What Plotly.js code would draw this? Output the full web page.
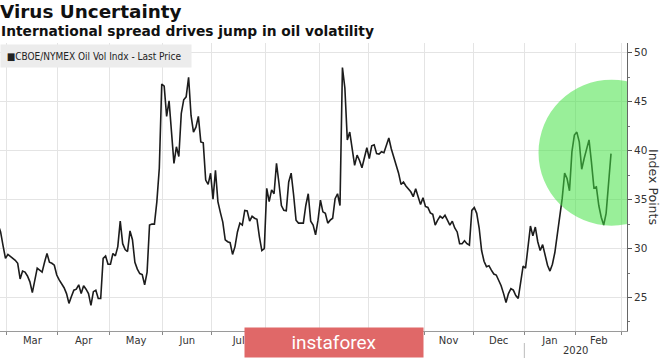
<!DOCTYPE html>
<html><head><meta charset="utf-8">
<script src="https://cdn.plot.ly/plotly-3.0.1.min.js"></script>
<style>html,body{margin:0;padding:0;background:#fff;}#chart{width:665px;height:358px;}</style>
</head><body><div id="chart"></div>
<script>
// Trading days (US exchange calendar) shown on the chart
const tradingDates = [
'2019-02-25','2019-02-26','2019-02-27','2019-02-28',
'2019-03-01','2019-03-04','2019-03-05','2019-03-06','2019-03-07','2019-03-08','2019-03-11','2019-03-12','2019-03-13','2019-03-14','2019-03-15','2019-03-18','2019-03-19','2019-03-20','2019-03-21','2019-03-22','2019-03-25','2019-03-26','2019-03-27','2019-03-28','2019-03-29',
'2019-04-01','2019-04-02','2019-04-03','2019-04-04','2019-04-05','2019-04-08','2019-04-09','2019-04-10','2019-04-11','2019-04-12','2019-04-15','2019-04-16','2019-04-17','2019-04-18','2019-04-22','2019-04-23','2019-04-24','2019-04-25','2019-04-26','2019-04-29','2019-04-30',
'2019-05-01','2019-05-02','2019-05-03','2019-05-06','2019-05-07','2019-05-08','2019-05-09','2019-05-10','2019-05-13','2019-05-14','2019-05-15','2019-05-16','2019-05-17','2019-05-20','2019-05-21','2019-05-22','2019-05-23','2019-05-24','2019-05-28','2019-05-29','2019-05-30','2019-05-31',
'2019-06-03','2019-06-04','2019-06-05','2019-06-06','2019-06-07','2019-06-10','2019-06-11','2019-06-12','2019-06-13','2019-06-14','2019-06-17','2019-06-18','2019-06-19','2019-06-20','2019-06-21','2019-06-24','2019-06-25','2019-06-26','2019-06-27','2019-06-28',
'2019-07-01','2019-07-02','2019-07-03','2019-07-05','2019-07-08','2019-07-09','2019-07-10','2019-07-11','2019-07-12','2019-07-15','2019-07-16','2019-07-17','2019-07-18','2019-07-19','2019-07-22','2019-07-23','2019-07-24','2019-07-25','2019-07-26','2019-07-29','2019-07-30','2019-07-31',
'2019-08-01','2019-08-02','2019-08-05','2019-08-06','2019-08-07','2019-08-08','2019-08-09','2019-08-12','2019-08-13','2019-08-14','2019-08-15','2019-08-16','2019-08-19','2019-08-20','2019-08-21','2019-08-22','2019-08-23','2019-08-26','2019-08-27','2019-08-28','2019-08-29','2019-08-30',
'2019-09-03','2019-09-04','2019-09-05','2019-09-06','2019-09-09','2019-09-10','2019-09-11','2019-09-12','2019-09-13','2019-09-16','2019-09-17','2019-09-18','2019-09-19','2019-09-20','2019-09-23','2019-09-24','2019-09-25','2019-09-26','2019-09-27','2019-09-30',
'2019-10-01','2019-10-02','2019-10-03','2019-10-04','2019-10-07','2019-10-08','2019-10-09','2019-10-10','2019-10-11','2019-10-14','2019-10-15','2019-10-16','2019-10-17','2019-10-18','2019-10-21','2019-10-22','2019-10-23','2019-10-24','2019-10-25','2019-10-28','2019-10-29','2019-10-30','2019-10-31',
'2019-11-01','2019-11-04','2019-11-05','2019-11-06','2019-11-07','2019-11-08','2019-11-11','2019-11-12','2019-11-13','2019-11-14','2019-11-15','2019-11-18','2019-11-19','2019-11-20','2019-11-21','2019-11-22','2019-11-25','2019-11-26','2019-11-27','2019-11-29',
'2019-12-02','2019-12-03','2019-12-04','2019-12-05','2019-12-06','2019-12-09','2019-12-10','2019-12-11','2019-12-12','2019-12-13','2019-12-16','2019-12-17','2019-12-18','2019-12-19','2019-12-20','2019-12-23','2019-12-24','2019-12-26','2019-12-27','2019-12-30','2019-12-31',
'2020-01-02','2020-01-03','2020-01-06','2020-01-07','2020-01-08','2020-01-09','2020-01-10','2020-01-13','2020-01-14','2020-01-15','2020-01-16','2020-01-17','2020-01-21','2020-01-22','2020-01-23','2020-01-24','2020-01-27','2020-01-28','2020-01-29','2020-01-30','2020-01-31',
'2020-02-03','2020-02-04','2020-02-05','2020-02-06','2020-02-07','2020-02-10','2020-02-11','2020-02-12','2020-02-13','2020-02-14','2020-02-18','2020-02-19','2020-02-20','2020-02-21','2020-02-24'
];

// CBOE/NYMEX Oil Vol Indx - Last Price
const ovxValues = [
32.4,31.7,30.3,29.0,29.4,29.2,29.0,28.8,28.5,26.9,27.7,27.6,27.2,
26.6,25.5,26.8,28.0,27.8,27.6,28.6,29.5,28.6,28.5,
28.3,27.3,26.8,26.4,26.0,25.4,24.4,25.1,25.75,25.85,
26.3,25.4,26.2,25.85,25.4,24.2,25.6,25.75,24.9,24.9,
29.0,29.25,28.4,28.4,29.5,29.25,30.2,32.8,30.5,29.9,
29.7,31.8,30.9,28.6,27.9,27.45,27.35,26.3,27.6,32.4,
32.5,32.5,34.8,38.2,46.8,46.6,43.5,45.1,41.6,38.7,
40.4,39.4,43.8,45.2,45.5,47.5,43.6,41.9,42.4,43.5,
40.9,40.8,37.0,36.55,37.7,35.05,38.0,34.8,33.7,32.7,
30.9,30.7,30.6,29.4,30.2,31.7,32.6,32.4,33.9,33.85,
32.8,33.3,33.1,33.0,31.2,29.8,30.0,36.15,34.8,36.0,
35.6,38.7,36.7,34.4,33.9,33.85,36.8,37.7,35.5,32.9,
32.6,32.6,32.6,34.4,35.6,32.8,32.4,31.4,32.9,34.95,
33.75,33.6,32.6,32.9,33.1,35.1,35.6,34.4,48.5,46.4,
41.1,41.9,40.2,38.5,39.55,39.0,38.25,39.4,40.3,39.2,
40.5,40.6,39.7,39.65,39.9,39.8,40.6,41.3,40.2,39.35,
38.5,37.7,36.55,36.8,36.4,36.1,35.8,35.3,36.1,35.3,
34.5,35.2,34.3,34.2,33.65,33.5,32.4,32.9,33.3,33.1,
33.4,32.9,32.4,32.8,32.1,31.7,30.5,30.5,30.8,30.5,
30.35,33.9,34.2,33.6,32.1,29.8,28.7,28.15,28.25,27.8,
27.4,27.3,26.8,26.2,25.4,24.5,25.4,25.9,25.75,25.2,
24.9,26.5,28.2,28.0,30.25,32.3,31.3,32.2,30.7,29.8,
30.4,29.3,28.3,27.7,28.4,29.6,31.4,33.75,35.1,37.7,
37.15,35.9,39.9,41.6,41.9,40.9,38.1,39.2,40.1,41.1,
38.8,36.2,36.3,34.4,33.2,32.4,33.6,37.0,39.7
];

const holidays = ['2019-04-19','2019-05-27','2019-07-04','2019-09-02','2019-11-28','2019-12-25','2020-01-01','2020-01-20','2020-02-17'];
const monthStarts = ['2019-03-01','2019-04-01','2019-05-01','2019-06-03','2019-07-01','2019-08-01','2019-09-03','2019-10-01','2019-11-01','2019-12-02','2020-01-02','2020-02-03','2020-03-02'];
const monthLabelDates = ['2019-03-15 12:00','2019-04-15 12:00','2019-05-16','2019-06-17','2019-07-17','2019-08-16','2019-09-17','2019-10-16 12:00','2019-11-15','2019-12-16 12:00','2020-01-16 12:00','2020-02-14 12:00'];
const monthLabels = ['Mar','Apr','May','Jun','Jul','Aug','Sep','Oct','Nov','Dec','Jan','Feb'];
// month labels that sit fully under the watermark in the source picture
const labelsUnderWatermark = ['Aug','Sep','Oct'];
const yearLabel = '2020';
const yearLabelDate = '2020-02-03';
const yearStart = '2020-01-02';

const seriesName = 'CBOE/NYMEX Oil Vol Indx - Last Price';

// each daily close sits in the middle of its day slot
const xs = tradingDates.map(d => d + ' 12:00');

const trace = {
  type: 'scatter', mode: 'lines', x: xs, y: ovxValues, name: seriesName,
  line: {color: '#1c1c1c', width: 1.6}, showlegend: false
};

const PH = 288; // plot height px
const layout = {
  width: 665, height: 358,
  margin: {l: 0, r: 38, t: 43, b: 27, pad: 0},
  paper_bgcolor: '#ffffff', plot_bgcolor: '#ffffff',
  showlegend: false,
  title: {
    text: 'Virus Uncertainty', x: 0, xref: 'container', xanchor: 'left',
    y: 0.985, yref: 'container', yanchor: 'top',
    font: {family: 'DejaVu Sans', size: 18.4, weight: 'bold', color: '#111'}
  },
  xaxis: {
    type: 'date', range: ['2019-02-26 06:08', '2020-03-04 01:12'],
    rangebreaks: [{bounds: ['sat', 'mon']}, {values: holidays}],
    tickmode: 'array', tickvals: monthLabelDates,
    ticktext: monthLabels.map(m => labelsUnderWatermark.includes(m) ? '' : m),
    ticks: '', showgrid: false, zeroline: false,
    showline: true, linecolor: '#9a9a9a', linewidth: 1,
    tickfont: {family: 'DejaVu Sans', size: 10, color: '#333'},
    minor: {tickmode: 'array', tickvals: monthStarts, ticks: 'outside', ticklen: 3,
            tickcolor: '#888', tickwidth: 1, showgrid: true, gridcolor: '#e4e4e4', gridwidth: 1},
    fixedrange: true
  },
  yaxis: {
    side: 'right', range: [21.58, 51.0],
    tickmode: 'linear', tick0: 0, dtick: 5,
    ticks: 'outside', ticklen: 4, tickcolor: '#555', tickwidth: 1,
    showline: true, linecolor: '#666', linewidth: 1,
    showgrid: true, gridcolor: '#e4e4e4', gridwidth: 1, zeroline: false,
    tickfont: {family: 'DejaVu Sans', size: 10.5, color: '#333'},
    minor: {tick0: 0, dtick: 2.5, ticks: 'outside', ticklen: 2, tickcolor: '#777', showgrid: false},
    fixedrange: true
  },
  shapes: [
    {type: 'circle', xref: 'x', yref: 'y', xsizemode: 'pixel', ysizemode: 'pixel',
     xanchor: '2020-02-24 17:00', yanchor: 39.8, x0: -73, x1: 73, y0: -73, y1: 73,
     fillcolor: 'rgba(70,225,70,0.55)', line: {width: 0}, layer: 'above'},
    {type: 'line', xref: 'x', yref: 'paper', x0: yearStart, x1: yearStart,
     y0: 1 - (343 - 43) / PH, y1: 1 - (358 - 43) / PH, line: {color: '#bbbbbb', width: 1}}
  ],
  annotations: [
    {text: 'International spread drives jump in oil volatility', xref: 'paper', x: 0, xanchor: 'left',
     yref: 'paper', y: 1 + (43 - 31) / PH, yanchor: 'middle', showarrow: false, borderpad: 0,
     font: {family: 'DejaVu Sans', size: 13.8, weight: 'bold', color: '#111'}},
    {text: '&nbsp;&nbsp;■' + seriesName, xref: 'paper', x: 0, xanchor: 'left',
     yref: 'paper', y: 1 - 1 / PH, yanchor: 'top', showarrow: false, align: 'left',
     width: 190, height: 22, borderpad: 0, bgcolor: '#ececec',
     font: {family: 'DejaVu Sans Condensed, DejaVu Sans', size: 10, color: '#222'}},
    {text: 'Index Points', xref: 'paper', x: 654 / 627, xanchor: 'center',
     yref: 'paper', y: 0.5, yanchor: 'middle', textangle: 90, showarrow: false,
     font: {family: 'DejaVu Sans', size: 12.5, color: '#333'}},
    {text: yearLabel, xref: 'x', x: yearLabelDate, yref: 'paper', y: 1 - (350.5 - 43) / PH,
     yanchor: 'middle', showarrow: false, font: {family: 'DejaVu Sans', size: 10, color: '#333'}},
    {text: 'instaforex', xref: 'paper', x: 244 / 627, xanchor: 'left',
     yref: 'paper', y: 1 - (327 - 43) / PH, yanchor: 'top', showarrow: false,
     width: 178, height: 29, borderpad: 0, bgcolor: '#e06868', align: 'center', valign: 'middle',
     font: {family: 'Roboto', size: 19, color: '#ffffff'}}
  ]
};

Plotly.newPlot('chart', [trace], layout, {staticPlot: true, displayModeBar: false});
</script>
</body></html>
